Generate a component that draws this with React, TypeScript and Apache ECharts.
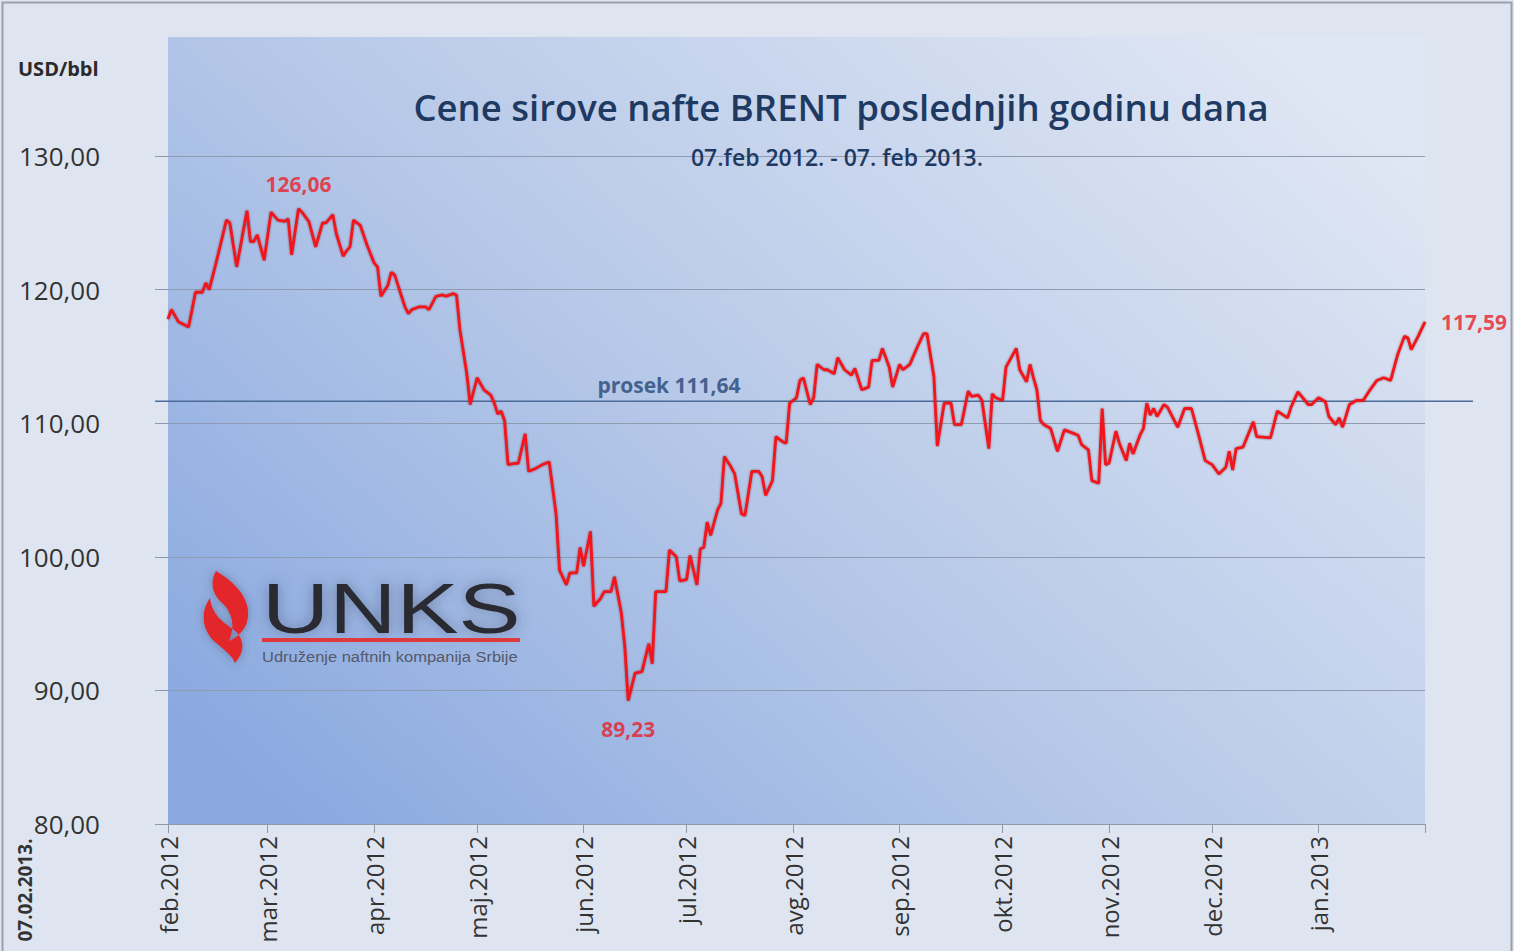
import React, { useEffect, useRef } from "react";
import * as echarts from "echarts";

const START_UTC = Date.UTC(2012, 1, 7);
const DAY_COUNT = 367;
const MONTHS = ["jan", "feb", "mar", "apr", "maj", "jun", "jul", "avg", "sep", "okt", "nov", "dec"];

const TITLE = "Cene sirove nafte BRENT poslednjih godinu dana";
const SUBTITLE = "07.feb 2012. - 07. feb 2013.";
const UNIT = "USD/bbl";
const AS_OF = "07.02.2013.";
const AVERAGE = 111.64;

const Y_MIN = 80;
const Y_MAX = 130;
const Y_STEP = 10;

// day offset from 07.02.2012 for each trading-day reading
const dayOffsets = [
  0, 1, 3, 6, 8, 10, 11, 12, 14, 17, 18, 20, 23, 24, 25, 26, 28, 30, 32, 34, 35, 36, 38, 39, 41, 43, 45, 46, 48, 49,
  51, 52, 53, 54, 56, 58, 60, 61, 62, 64, 65, 66, 67, 69, 70, 71, 73, 75, 76, 78, 80, 81, 83, 84, 85, 87, 88, 90, 92, 94,
  95, 96, 97, 98, 99, 101, 102, 104, 105, 107, 109, 111, 113, 114, 116, 117, 119, 120, 121, 123, 124, 126, 127, 129, 130, 132, 133, 134, 136, 138,
  140, 141, 142, 145, 146, 148, 149, 151, 152, 154, 155, 156, 157, 158, 160, 161, 162, 164, 165, 167, 168, 170, 172, 173, 174, 176, 177, 179, 180, 181,
  183, 184, 185, 187, 188, 189, 191, 192, 194, 195, 197, 199, 200, 202, 204, 205, 207, 208, 210, 211, 213, 214, 216, 218, 220, 221, 223, 224, 226, 228,
  229, 231, 233, 234, 236, 237, 239, 240, 241, 243, 244, 247, 248, 250, 251, 252, 253, 254, 255, 257, 259, 261, 264, 265, 266, 268, 269, 271, 272, 273,
  274, 276, 277, 279, 280, 281, 283, 284, 285, 286, 287, 288, 290, 291, 294, 296, 298, 300, 302, 304, 306, 308, 309, 310, 311, 313, 316, 317, 321, 323,
  326, 327, 329, 332, 333, 335, 337, 338, 340, 341, 342, 344, 346, 348, 350, 352, 354, 356, 358, 360, 361, 362, 364, 366,
];

const prices = [
  117.8, 118.5, 117.6, 117.2, 119.8, 119.8, 120.5, 120.0, 122.0, 125.2, 125.0, 121.7, 125.9, 123.6, 123.6, 124.1, 122.2, 125.8, 125.2, 125.1, 125.3, 122.6, 126.06, 125.8, 125.1, 123.2, 125.0, 125.0, 125.6, 124.2,
  122.5, 122.9, 123.2, 125.2, 124.8, 123.3, 122.0, 121.7, 119.5, 120.3, 121.3, 121.1, 120.3, 118.7, 118.2, 118.5, 118.7, 118.7, 118.5, 119.5, 119.6, 119.5, 119.7, 119.6, 117.0, 113.7, 111.4, 113.4, 112.5, 112.1,
  111.5, 110.7, 110.9, 110.2, 106.9, 107.0, 107.0, 109.2, 106.4, 106.6, 106.9, 107.1, 103.2, 99.0, 97.9, 98.8, 98.8, 100.7, 99.3, 101.9, 96.3, 96.9, 97.4, 97.4, 98.5, 95.8, 93.3, 89.23, 91.3, 91.4,
  93.5, 92.0, 97.4, 97.4, 100.5, 100.0, 98.2, 98.3, 100.1, 97.9, 100.6, 100.7, 102.6, 101.6, 103.5, 104.0, 107.5, 106.7, 106.2, 103.2, 103.1, 106.4, 106.4, 106.0, 104.6, 105.7, 109.0, 108.6, 108.5, 111.5,
  111.9, 113.2, 113.4, 111.4, 111.9, 114.4, 114.0, 114.0, 113.7, 114.9, 114.0, 113.6, 114.1, 112.5, 112.7, 114.7, 114.7, 115.6, 114.2, 112.7, 114.4, 114.0, 114.4, 115.6, 116.7, 116.7, 113.5, 108.3, 111.5, 111.5,
  109.9, 109.9, 112.4, 112.0, 112.1, 111.7, 108.1, 112.2, 111.9, 111.7, 114.2, 115.6, 114.0, 113.1, 114.4, 113.4, 112.5, 110.2, 109.9, 109.6, 107.9, 109.5, 109.2, 109.1, 108.4, 108.0, 105.7, 105.5, 111.1, 106.9,
  107.0, 109.4, 108.5, 107.2, 108.5, 107.7, 109.1, 109.6, 111.5, 110.6, 111.1, 110.5, 111.4, 111.2, 109.7, 111.1, 111.1, 109.2, 107.2, 106.9, 106.2, 106.7, 107.9, 106.5, 108.1, 108.2, 110.1, 109.0, 108.9, 110.9,
  110.4, 111.2, 112.35, 111.4, 111.4, 111.9, 111.6, 110.5, 109.9, 110.4, 109.7, 111.4, 111.7, 111.7, 112.5, 113.2, 113.4, 113.2, 115.1, 116.5, 116.4, 115.5, 116.5, 117.59,
];

// highlighted readings: [day offset, value, label position]
const highlights: [number, number, string][] = [
  [38, 126.06, "top"],
  [134, 89.23, "bottom"],
  [366, 117.59, "right"],
];

const categories = Array.from({ length: DAY_COUNT }, (_, i) =>
  new Date(START_UTC + i * 86400000).toISOString().slice(0, 10)
);

const fmt = (v: number) => v.toFixed(2).replace(".", ",");

const FLAME =
  "M216 571 C240 585 254 605 246 625 C242 633 236 638 229 641 C236 626 232 611 220 601 C212 593 210 581 216 571 Z " +
  "M210 598 C200 612 202 630 215 642 C224 650 232 655 235 663 C246 651 244 638 234 630 C223 622 212 615 210 598 Z";

export default function App() {
  const ref = useRef<HTMLDivElement>(null);

  useEffect(() => {
    if (!ref.current) return;
    try {
      echarts.graphic.registerShape("flame", echarts.graphic.extendPath(FLAME, {}) as any);
    } catch (e) {}
    const chart = echarts.init(ref.current, undefined, { renderer: "svg" });
    const isMonthTick = (_: number, value: string) => value.slice(8, 10) === "07";
    const FONT = "'Open Sans', 'Noto Sans', sans-serif";
    const navy = "#1f3a62";

    chart.setOption({
      animation: false,
      backgroundColor: "#e0e6f1",
      grid: { left: 168, right: 89, top: 156, bottom: 127, containLabel: false },
      xAxis: {
        type: "category",
        data: categories,
        boundaryGap: false,
        axisLine: { show: true, lineStyle: { color: "#8d98ab", width: 1 } },
        axisTick: { show: true, interval: isMonthTick, length: 9, lineStyle: { color: "#8d98ab" } },
        axisLabel: {
          interval: (i: number, v: string) => v.slice(8, 10) === "07" && i < DAY_COUNT - 1,
          rotate: 90,
          margin: 12,
          fontSize: 24,
          fontFamily: FONT,
          color: "#333333",
          formatter: (v: string) => MONTHS[+v.slice(5, 7) - 1] + "." + v.slice(0, 4),
        },
        splitLine: { show: false },
      },
      yAxis: {
        type: "value",
        min: Y_MIN,
        max: Y_MAX,
        interval: Y_STEP,
        axisLine: { show: false },
        axisTick: { show: true, length: 13, lineStyle: { color: "#8d98ab" } },
        axisLabel: { margin: 68, fontSize: 26, fontFamily: FONT, color: "#333333", formatter: (v: number) => fmt(v) },
        splitLine: { show: true, lineStyle: { color: "#8f9bb0", width: 1 } },
      },
      series: [
        {
          type: "line",
          data: dayOffsets.map((d, i) => [categories[d], prices[i]]),
          showSymbol: false,
          symbol: "none",
          z: 5,
          lineStyle: {
            color: "#f2141c",
            width: 2.8,
            shadowColor: "rgba(90,0,0,0.5)",
            shadowBlur: 2,
          },
        },
        {
          type: "scatter",
          symbolSize: 0,
          z: 6,
          data: highlights.map(([d, v, pos]) => ({
            value: [categories[d], v],
            label: {
              show: true,
              position: pos,
              distance: pos === "right" ? 16 : pos === "bottom" ? 18 : 14,
              formatter: () => fmt(v),
              fontSize: 21,
              fontWeight: "bold",
              fontFamily: FONT,
              color: "#e8202a",
            },
          })),
        },
      ],
      graphic: [
        {
          type: "rect",
          id: "border",
          z: -20,
          shape: { x: 2.5, y: 2.5, width: 1509, height: 960 },
          style: { fill: "#dfe5f0", stroke: "#9aa1ab", lineWidth: 2 },
          silent: true,
        },
        {
          type: "rect",
          id: "plotbg",
          z: -10,
          shape: { x: 168, y: 37, width: 1257, height: 787 },
          style: {
            fill: new echarts.graphic.LinearGradient(0, 0.85, 1, 0.15, [
              { offset: 0, color: "#8aa9e0" },
              { offset: 0.45, color: "#b6c8e8" },
              { offset: 1, color: "#e0e7f4" },
            ]),
          },
          silent: true,
        },
        {
          type: "text",
          id: "title",
          z: 10,
          x: 841,
          y: 107,
          style: { text: TITLE, fontSize: 36.5, fontWeight: 600, fontFamily: FONT, fill: navy, textAlign: "center", textVerticalAlign: "middle" },
        },
        {
          type: "text",
          id: "subtitle",
          z: 10,
          x: 837,
          y: 157,
          style: { text: SUBTITLE, fontSize: 23, fontWeight: 600, fontFamily: FONT, fill: navy, textAlign: "center", textVerticalAlign: "middle" },
        },
        {
          type: "text",
          id: "unit",
          z: 10,
          x: 18,
          y: 68,
          style: { text: UNIT, fontSize: 20, fontWeight: "bold", fontFamily: FONT, fill: "#2a2a2a", textAlign: "left", textVerticalAlign: "middle" },
        },
        {
          type: "text",
          id: "asof",
          z: 10,
          x: 25,
          y: 890,
          rotation: Math.PI / 2,
          style: { text: AS_OF, fontSize: 19, fontWeight: "bold", fontFamily: FONT, fill: "#333", textAlign: "center", textVerticalAlign: "middle" },
        },
        {
          type: "group",
          id: "logo",
          z: 3,
          children: [
            { type: "flame", x: 0, y: 0, style: { fill: "#e2262c", shadowColor: "rgba(60,70,95,0.45)", shadowBlur: 10 } },
            {
              type: "text",
              x: 262,
              y: 608,
              scaleX: 1.33,
              style: {
                text: "UNKS",
                fontSize: 70,
                fontFamily: "'Liberation Sans', Arial, sans-serif",
                fill: "#2b2b32",
                textAlign: "left",
                textVerticalAlign: "middle",
                textShadowColor: "rgba(60,70,95,0.5)",
                textShadowBlur: 14,
              },
            },
            { type: "rect", shape: { x: 262, y: 638, width: 258, height: 4 }, style: { fill: "#e0393c" } },
            {
              type: "text",
              x: 262,
              y: 657,
              scaleX: 1.1,
              style: {
                text: "Udruženje naftnih kompanija Srbije",
                fontSize: 15,
                fontFamily: "'Liberation Sans', Arial, sans-serif",
                fill: "#55596a",
                textAlign: "left",
                textVerticalAlign: "middle",
              },
            },
          ],
        },
      ],
    });

    const yAvg = chart.convertToPixel({ yAxisIndex: 0 }, AVERAGE) as number;
    chart.setOption({
      graphic: [
        {
          type: "line",
          id: "avgline",
          z: 4,
          shape: { x1: 155, y1: yAvg, x2: 1473, y2: yAvg },
          style: { stroke: "#4b6b98", lineWidth: 1.6 },
        },
        {
          type: "text",
          id: "avglabel",
          z: 10,
          x: 669,
          y: yAvg - 16,
          style: {
            text: "prosek " + fmt(AVERAGE),
            fontSize: 21,
            fontWeight: "bold",
            fontFamily: FONT,
            fill: "#44628e",
            textAlign: "center",
            textVerticalAlign: "middle",
          },
        },
      ],
    });

    return () => chart.dispose();
  }, []);

  return <div ref={ref} style={{ position: "fixed", left: 0, top: 0, width: 1514, height: 951 }} />;
}
